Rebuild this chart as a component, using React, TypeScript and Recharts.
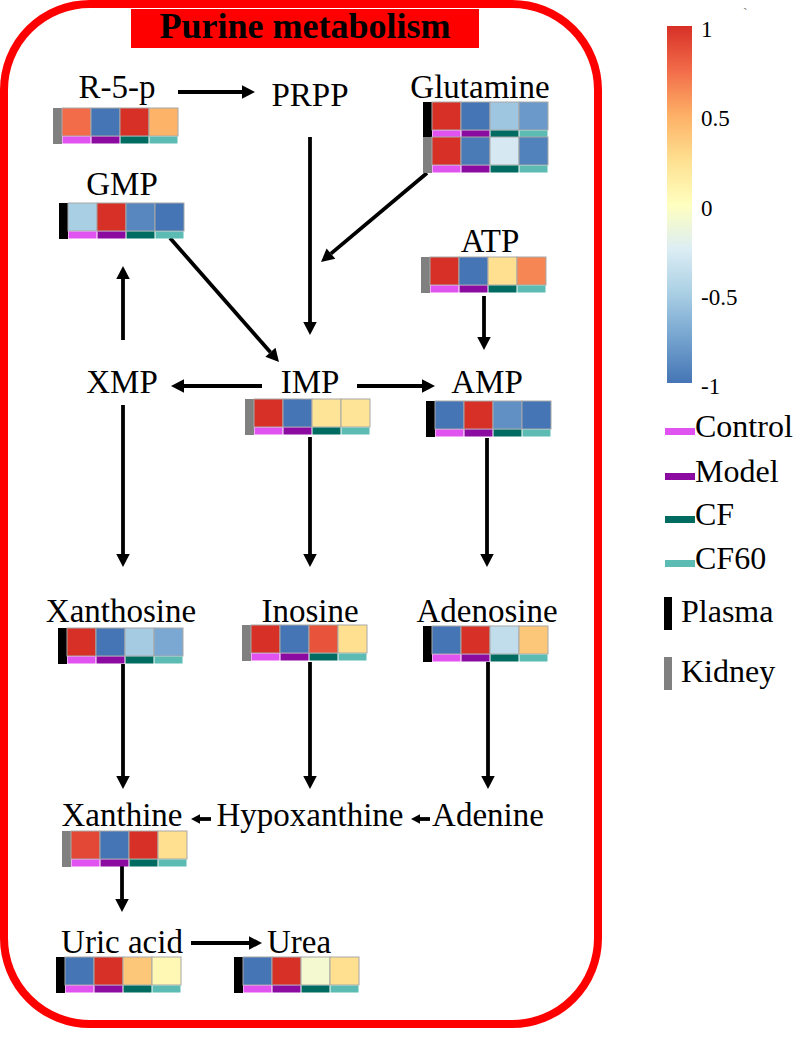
import React from 'react';
import { ScatterChart, Scatter, XAxis, YAxis, ReferenceLine, ReferenceArea } from 'recharts';

const W = 798;
const H = 1037;
const FONT = '"Liberation Serif", "Times New Roman", serif';

// sample groups and tissues
const groups = ['Control', 'Model', 'CF', 'CF60'];
const groupColors = ['#e153f0', '#8b0aa0', '#006b61', '#5cbcb4'];
const tissues = ['Plasma', 'Kidney'];
const tissueColors = ['#000000', '#808080'];

// scaled levels, order: Control, Model, CF, CF60
const r5pKidney = [0.75, -1, 1, 0.48];
const gmpPlasma = [-0.5, 1, -0.9, -1];
const glutaminePlasma = [1, -1, -0.55, -0.8];
const glutamineKidney = [1, -0.97, -0.28, -0.93];
const atpKidney = [1, -1, 0.25, 0.65];
const impKidney = [1, -1, 0.22, 0.22];
const ampPlasma = [-1, 1, -0.85, -1];
const xanthosinePlasma = [1, -1, -0.52, -0.72];
const inosineKidney = [1, -1, 0.85, 0.25];
const adenosinePlasma = [-1, 1, -0.38, 0.38];
const xanthineKidney = [0.9, -1, 1, 0.25];
const uricAcidPlasma = [-1, 1, 0.38, 0.06];
const ureaPlasma = [-1, 1, -0.08, 0.25];

const colorbarTicks = [1, 0.5, 0, -0.5, -1];

// diagram layout (label centre x, baseline y)
const labelPos: Record<string, [number, number]> = {
  'R-5-p': [117, 98],
  PRPP: [310, 106],
  Glutamine: [480, 98],
  GMP: [122, 195],
  ATP: [490, 252],
  XMP: [122, 393],
  IMP: [310, 393],
  AMP: [487, 393],
  Xanthosine: [121, 622],
  Inosine: [310, 622],
  Adenosine: [487, 622],
  Xanthine: [122, 826],
  Hypoxanthine: [310, 826],
  Adenine: [488, 826],
  'Uric acid': [122, 953],
  Urea: [299, 953],
};

// heat rows: values, tissue index, top-left of the tissue bar
const heatRows: { values: number[]; tissue: number; at: [number, number] }[] = [
  { values: r5pKidney, tissue: 1, at: [53, 108] },
  { values: gmpPlasma, tissue: 0, at: [59, 203] },
  { values: glutaminePlasma, tissue: 0, at: [423, 102] },
  { values: glutamineKidney, tissue: 1, at: [423, 137] },
  { values: atpKidney, tissue: 1, at: [421, 257] },
  { values: impKidney, tissue: 1, at: [245, 399] },
  { values: ampPlasma, tissue: 0, at: [426, 401] },
  { values: xanthosinePlasma, tissue: 0, at: [58, 628] },
  { values: inosineKidney, tissue: 1, at: [242, 625] },
  { values: adenosinePlasma, tissue: 0, at: [423, 626] },
  { values: xanthineKidney, tissue: 1, at: [62, 831] },
  { values: uricAcidPlasma, tissue: 0, at: [56, 957] },
  { values: ureaPlasma, tissue: 0, at: [234, 957] },
];

// arrows: from -> to, head size
const arrows: [number, number, number, number, number][] = [
  [178, 92, 255, 92, 13],
  [310, 137, 310, 335, 13],
  [427, 173, 321, 262, 13],
  [170, 238, 279, 362, 13],
  [123, 340, 123, 266, 13],
  [484, 296, 484, 350, 13],
  [262, 386, 171, 386, 13],
  [357, 386, 435, 386, 13],
  [123, 405, 123, 567, 13],
  [310, 437, 310, 567, 13],
  [487, 438, 487, 567, 13],
  [123, 664, 123, 789, 13],
  [310, 662, 310, 789, 13],
  [488, 662, 488, 789, 13],
  [211, 819, 191, 819, 9],
  [430, 819, 411, 819, 9],
  [122, 866, 122, 912, 13],
  [191, 943, 262, 943, 13],
];

const CELL_W = 29;
const CELL_H = 28;
const BAR_H = 7;
const SIDE_W = 9;

const CB_TOP = 26;
const CB_BOTTOM = 383;

const scaleStops: [number, string][] = [
  [-1, '#4575b4'],
  [-0.75, '#74a3cf'],
  [-0.5, '#a9cfe4'],
  [-0.25, '#dcedf4'],
  [0, '#ffffbf'],
  [0.25, '#fee090'],
  [0.5, '#fdb066'],
  [0.75, '#f26c49'],
  [1, '#d73027'],
];

const hex = (c: string) => [1, 3, 5].map((i) => parseInt(c.slice(i, i + 2), 16));
const colorFor = (v: number) => {
  for (let i = 0; i < scaleStops.length - 1; i++) {
    const [a, ca] = scaleStops[i];
    const [b, cb] = scaleStops[i + 1];
    if (v <= b || i === scaleStops.length - 2) {
      const t = Math.max(0, Math.min(1, (v - a) / (b - a)));
      const A = hex(ca);
      const B = hex(cb);
      const m = A.map((x, k) => Math.round(x + (B[k] - x) * t));
      return `rgb(${m[0]},${m[1]},${m[2]})`;
    }
  }
  return '#ffffbf';
};

const cellData = heatRows.flatMap((r) =>
  r.values.map((v, i) => ({
    x: r.at[0] + SIDE_W + i * CELL_W + CELL_W / 2,
    y: r.at[1] + CELL_H / 2,
    v,
    g: i,
  }))
);
const sideData = heatRows.map((r) => ({
  x: r.at[0] + SIDE_W / 2,
  y: r.at[1] + (CELL_H + BAR_H + 1) / 2,
  t: r.tissue,
}));
const labelData = Object.keys(labelPos).map((name) => ({
  x: labelPos[name][0],
  y: labelPos[name][1],
  name,
}));
const cbLabelData = colorbarTicks.map((v) => ({
  x: 701,
  y: CB_TOP + ((1 - v) / 2) * (CB_BOTTOM - CB_TOP) + 11,
  name: String(v),
}));
const groupLegendY = [437, 482, 525, 569];
const groupLegend = groups.map((name, i) => ({ x: 665, y: groupLegendY[i], name, c: groupColors[i] }));
const tissueLegendY = [622, 682];
const tissueLegend = tissues.map((name, i) => ({ x: 664, y: tissueLegendY[i], name, c: tissueColors[i] }));

const CellShape = (p: any) => {
  const { cx, cy, payload } = p;
  const x = cx - CELL_W / 2;
  const y = cy - CELL_H / 2;
  return (
    <g>
      <rect x={x} y={y} width={CELL_W} height={CELL_H} fill={colorFor(payload.v)} stroke="#a8a8a8" strokeWidth={1} />
      <rect x={x + 0.5} y={y + CELL_H + 0.5} width={CELL_W - 1} height={BAR_H} fill={groupColors[payload.g]} />
    </g>
  );
};

const SideShape = (p: any) => {
  const h = CELL_H + BAR_H + 1;
  return <rect x={p.cx - SIDE_W / 2} y={p.cy - h / 2} width={SIDE_W} height={h} fill={tissueColors[p.payload.t]} />;
};

const LabelShape = (p: any) => (
  <text x={p.cx} y={p.cy} textAnchor="middle" fontFamily={FONT} fontSize={33} fill="#000">
    {p.payload.name}
  </text>
);

const CbLabelShape = (p: any) => (
  <text x={p.cx} y={p.cy} textAnchor="start" fontFamily={FONT} fontSize={23} fill="#000">
    {p.payload.name}
  </text>
);

const GroupLegendShape = (p: any) => (
  <g>
    <rect x={p.cx} y={p.cy - 9} width={30} height={7} fill={p.payload.c} />
    <text x={p.cx + 30} y={p.cy} fontFamily={FONT} fontSize={32} fill="#000">
      {p.payload.name}
    </text>
  </g>
);

const TissueLegendShape = (p: any) => (
  <g>
    <rect x={p.cx} y={p.cy - 25} width={8} height={33} fill={p.payload.c} />
    <text x={p.cx + 17} y={p.cy} fontFamily={FONT} fontSize={32} fill="#000">
      {p.payload.name}
    </text>
  </g>
);

const arrowShape = (head: number) => (p: any) => {
  const { x1, y1, x2, y2 } = p;
  const a = Math.atan2(y2 - y1, x2 - x1);
  const bx = x2 - head * Math.cos(a);
  const by = y2 - head * Math.sin(a);
  const hw = head * 0.52;
  const nx = -Math.sin(a) * hw;
  const ny = Math.cos(a) * hw;
  return (
    <g>
      <line x1={x1} y1={y1} x2={bx} y2={by} stroke="#000" strokeWidth={3.8} />
      <polygon points={`${x2},${y2} ${bx + nx},${by + ny} ${bx - nx},${by - ny}`} fill="#000" />
    </g>
  );
};

const BorderShape = (p: any) => (
  <rect x={p.x} y={p.y} width={p.width} height={p.height} rx={86} ry={86} fill="none" stroke="#ff0000" strokeWidth={8} />
);

const TitleShape = (p: any) => (
  <g>
    <rect x={p.x} y={p.y} width={p.width} height={p.height} fill="#ff0000" />
    <text x={p.x + p.width / 2} y={p.y + 29} textAnchor="middle" fontFamily={FONT} fontWeight="bold" fontSize={36} fill="#000">
      Purine metabolism
    </text>
  </g>
);

const ColorbarShape = (p: any) => (
  <g>
    <defs>
      <linearGradient id="cbGrad" x1="0" y1="0" x2="0" y2="1">
        {scaleStops
          .slice()
          .reverse()
          .map(([v, c]) => (
            <stop key={v} offset={`${((1 - v) / 2) * 100}%`} stopColor={c} />
          ))}
      </linearGradient>
    </defs>
    <rect x={p.x} y={p.y} width={p.width} height={p.height} fill="url(#cbGrad)" />
    <text x={743} y={18} fontFamily={FONT} fontSize={14} fill="#777">
      `
    </text>
  </g>
);

export default function App() {
  return (
    <div style={{ position: 'absolute', left: 0, top: 0, width: W, height: H, background: '#fff' }}>
      <ScatterChart width={W} height={H} margin={{ top: 0, right: 0, bottom: 0, left: 0 }}>
        <XAxis type="number" dataKey="x" domain={[0, W]} hide />
        <YAxis type="number" dataKey="y" domain={[0, H]} reversed hide />
        <ReferenceArea x1={4} x2={598} y1={4} y2={1024} shape={BorderShape} ifOverflow="visible" />
        <ReferenceArea x1={131} x2={479} y1={9} y2={48} shape={TitleShape} ifOverflow="visible" />
        <ReferenceArea x1={667} x2={692} y1={CB_TOP} y2={CB_BOTTOM} shape={ColorbarShape} ifOverflow="visible" />
        {arrows.map(([ax, ay, bx, by, hd], i) => (
          <ReferenceLine
            key={i}
            segment={[
              { x: ax, y: ay },
              { x: bx, y: by },
            ]}
            shape={arrowShape(hd)}
            ifOverflow="visible"
          />
        ))}
        <Scatter data={sideData} shape={SideShape} isAnimationActive={false} />
        <Scatter data={cellData} shape={CellShape} isAnimationActive={false} />
        <Scatter data={labelData} shape={LabelShape} isAnimationActive={false} />
        <Scatter data={cbLabelData} shape={CbLabelShape} isAnimationActive={false} />
        <Scatter data={groupLegend} shape={GroupLegendShape} isAnimationActive={false} />
        <Scatter data={tissueLegend} shape={TissueLegendShape} isAnimationActive={false} />
      </ScatterChart>
    </div>
  );
}
